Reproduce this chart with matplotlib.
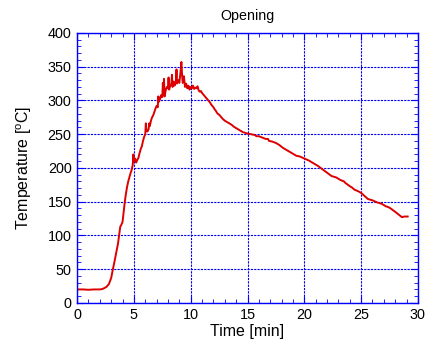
import matplotlib
matplotlib.use("Agg")
import matplotlib.pyplot as plt
from matplotlib.ticker import MultipleLocator

plt.rcParams['font.family'] = ['Liberation Sans', 'DejaVu Sans']
plt.rcParams['mathtext.fontset'] = 'custom'
plt.rcParams['mathtext.rm'] = 'Liberation Sans'
plt.rcParams['mathtext.it'] = 'Liberation Sans'

# Temperature record of the opening test (time in minutes, temperature in deg C)
time_min = [
    0.0, 0.5, 1.0, 1.5, 2.0, 2.2, 2.4, 2.6, 2.8, 3.0, 3.15, 3.3, 3.45, 3.6, 3.7,
    3.8, 3.9, 4.0, 4.1, 4.2, 4.3, 4.4, 4.5, 4.6, 4.7, 4.8, 4.9, 4.95, 5.0, 5.1,
    5.2, 5.3, 5.4, 5.5, 5.6, 5.7, 5.8, 5.9, 6.0, 6.05, 6.1, 6.2, 6.3, 6.35, 6.4,
    6.5, 6.6, 6.7, 6.8, 6.9, 7.0, 7.1, 7.15, 7.2, 7.3, 7.4, 7.5, 7.55, 7.6, 7.65,
    7.7, 7.8, 7.9, 8.0, 8.05, 8.1, 8.2, 8.3, 8.35, 8.4, 8.5, 8.6, 8.7, 8.75, 8.8,
    8.9, 9.0, 9.1, 9.18, 9.25, 9.3, 9.4, 9.5, 9.6, 9.7, 9.8, 9.9, 10.0, 10.1,
    10.2, 10.3, 10.4, 10.5, 10.6, 10.7, 10.8, 10.9, 11.0, 11.1, 11.2, 11.3, 11.4,
    11.5, 11.6, 11.7, 11.8, 11.9, 12.0, 12.1, 12.2, 12.3, 12.4, 12.5, 12.6, 12.7,
    12.8, 13.0, 13.2, 13.4, 13.5, 13.6, 13.8, 14.0, 14.2, 14.3, 14.6, 14.8, 15.0,
    15.3, 15.6, 15.8, 16.0, 16.3, 16.6, 16.8, 16.9, 17.2, 17.5, 17.8, 18.1, 18.4,
    18.7, 19.0, 19.3, 19.6, 20.0, 20.4, 20.8, 21.2, 21.6, 22.0, 22.4, 22.8, 23.2,
    23.5, 23.6, 24.0, 24.2, 24.4, 24.8, 25.0, 25.2, 25.6, 26.0, 26.4, 26.8, 27.2,
    27.4, 27.6, 28.0, 28.3, 28.6, 28.8, 29.1,
]
temperature_c = [
    20, 20, 19.5, 20, 20, 20.5, 22, 24, 28, 37, 50, 62, 75, 88, 100,
    113, 116, 120, 135, 150, 162, 172, 180, 186, 192, 197, 205, 220, 210, 214,
    208, 212, 215, 222, 228, 232, 240, 246, 250, 266, 255, 254, 258, 266, 262,
    270, 275, 278, 283, 288, 292, 290, 306, 298, 302, 308, 305, 326, 310, 332,
    306, 315, 320, 318, 334, 316, 322, 325, 338, 320, 328, 322, 330, 346, 325,
    330, 326, 342, 357, 335, 326, 336, 320, 325, 318, 322, 316, 320, 318,
    322, 317, 319, 318, 321, 315, 313, 314, 311, 309, 307, 305, 303,
    301, 299, 297, 294, 292, 290, 287, 285, 282, 280, 279, 277, 275,
    273, 270, 268, 266, 265, 264, 261, 259, 257, 256, 253, 252, 251,
    250, 249, 247, 247, 245, 243, 243, 240, 239, 237, 234, 230, 227,
    224, 221, 218, 217, 214, 211, 207, 203, 198, 193, 188, 186, 182,
    180, 178, 173, 171, 168, 165, 163, 160, 154, 152, 149, 147, 143,
    142, 140, 135, 131, 127, 128, 128,
]

fig = plt.figure(figsize=(4.26, 3.47), dpi=100)
ax = fig.add_axes([0.181, 0.127, 0.800, 0.778])

ax.plot(time_min, temperature_c, color='#dd0000', linewidth=1.4)

ax.set_xlim(0, 30)
ax.set_ylim(0, 400)
ax.xaxis.set_major_locator(MultipleLocator(5))
ax.xaxis.set_minor_locator(MultipleLocator(1))
ax.yaxis.set_major_locator(MultipleLocator(50))
ax.yaxis.set_minor_locator(MultipleLocator(10))

ax.grid(True, which='major', color='#0000ee', linestyle=(0, (2, 1)), linewidth=0.8)
for s in ax.spines.values():
    s.set_color('#0000ff')
    s.set_linewidth(1.0)
ax.tick_params(which='both', direction='in', top=True, right=True,
               color='#0000ff', labelsize=10.4, labelcolor='black')
ax.tick_params(which='major', length=5, pad=4)
ax.tick_params(which='minor', length=3)

ax.set_xlabel('Time [min]', fontsize=11.5, labelpad=1)
ax.set_ylabel(r'Temperature [$^{\rm o}$C]', fontsize=11.5, labelpad=10)
ax.set_title('Opening', fontsize=10.3, pad=9)

fig.savefig('out.png', dpi=100)
